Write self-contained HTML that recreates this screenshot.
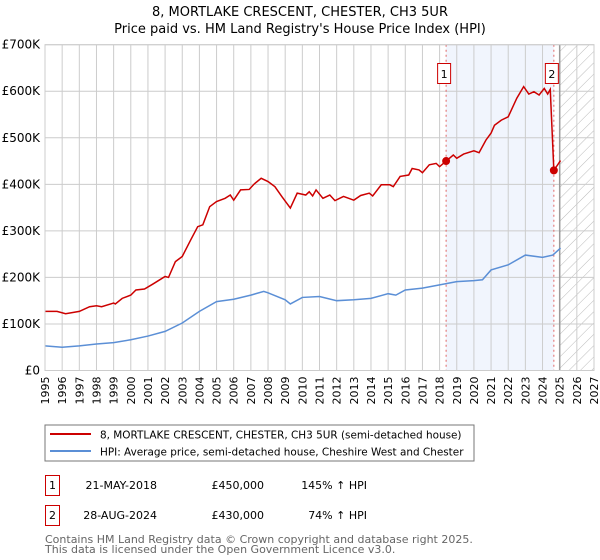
<!DOCTYPE html>
<html><head><meta charset="utf-8"><style>
body{margin:0;background:#fff;font-family:"DejaVu Sans","Liberation Sans",sans-serif;}
svg{display:block}
</style></head><body>
<svg id="chart" width="600" height="560" font-family="DejaVu Sans, Liberation Sans, sans-serif">
<defs><pattern id="hatch" width="8" height="8" patternUnits="userSpaceOnUse" patternTransform="rotate(45)"><line x1="0" y1="0" x2="0" y2="8" stroke="#bbb" stroke-width="1"/></pattern></defs>
<text x="300" y="16" text-anchor="middle" font-size="13">8, MORTLAKE CRESCENT, CHESTER, CH3 5UR</text>
<text x="300" y="33" text-anchor="middle" font-size="13">Price paid vs. HM Land Registry's House Price Index (HPI)</text>
<g id="plot"></g>
<rect x="45" y="425" width="429" height="36" fill="#fff" stroke="#777"/>
<line x1="50" y1="434" x2="91" y2="434" stroke="#cc0000" stroke-width="2"/>
<text x="100" y="438.5" font-size="10.45">8, MORTLAKE CRESCENT, CHESTER, CH3 5UR (semi-detached house)</text>
<line x1="50" y1="451" x2="91" y2="451" stroke="#5b8fd6" stroke-width="2"/>
<text x="100" y="455.5" font-size="10.45">HPI: Average price, semi-detached house, Cheshire West and Chester</text>
<g font-size="11">
<rect x="45.5" y="475.5" width="14" height="20" fill="none" stroke="#cc0000"/>
<text x="52.5" y="489" text-anchor="middle">1</text>
<text x="157" y="489" text-anchor="end">21-MAY-2018</text>
<text x="264" y="489" text-anchor="end">£450,000</text>
<text x="367" y="489" text-anchor="end">145% ↑ HPI</text>
<rect x="45.5" y="505.5" width="14" height="20" fill="none" stroke="#cc0000"/>
<text x="52.5" y="519" text-anchor="middle">2</text>
<text x="157" y="519" text-anchor="end">28-AUG-2024</text>
<text x="264" y="519" text-anchor="end">£430,000</text>
<text x="367" y="519" text-anchor="end">74% ↑ HPI</text>
</g>
<text x="45" y="543" font-size="11" fill="#666">Contains HM Land Registry data © Crown copyright and database right 2025.</text>
<text x="45" y="553" font-size="11" fill="#666">This data is licensed under the Open Government Licence v3.0.</text>
</svg>
<script>
const yTicks=[0,100,200,300,400,500,600,700];
const yTickLabels=["£0","£100K","£200K","£300K","£400K","£500K","£600K","£700K"];
const xYears=[1995,1996,1997,1998,1999,2000,2001,2002,2003,2004,2005,2006,2007,2008,2009,2010,2011,2012,2013,2014,2015,2016,2017,2018,2019,2020,2021,2022,2023,2024,2025,2026,2027];
const propT=[1995,1995.7,1996.2,1997,1997.6,1998,1998.3,1999,1999.1,1999.5,2000,2000.3,2000.8,2001.3,2002,2002.2,2002.6,2003,2003.5,2003.9,2004.2,2004.6,2005,2005.5,2005.8,2006,2006.4,2006.9,2007.2,2007.6,2008,2008.4,2008.8,2009.3,2009.7,2010.2,2010.4,2010.6,2010.8,2011.2,2011.6,2011.9,2012.4,2013,2013.4,2013.9,2014.1,2014.6,2015.1,2015.3,2015.7,2016.2,2016.4,2016.8,2017,2017.4,2017.8,2018,2018.38,2018.8,2019,2019.4,2020,2020.3,2020.7,2021,2021.2,2021.6,2022,2022.5,2022.9,2023.2,2023.5,2023.8,2024.1,2024.3,2024.45,2024.66,2025.05];
const propV=[127,127,122,127,137,139,137,145,143,155,162,173,175,186,202,200,234,245,281,309,313,352,363,370,377,366,388,389,401,413,406,395,374,349,381,377,384,375,388,370,377,365,374,366,376,381,375,399,399,395,417,420,434,431,425,442,445,438,450,463,456,465,472,468,495,510,527,538,545,585,610,594,599,592,606,594,604,430,451];
const hpiT=[1995,1996,1997,1998,1999,2000,2001,2002,2003,2004,2005,2006,2007,2007.75,2008,2009,2009.3,2010,2011,2012,2013,2014,2015,2015.45,2016,2017,2018,2019,2020,2020.5,2021,2022,2023,2024,2024.6,2025.05];
const hpiV=[53,50,53,57,60,66,74,84,102,127,148,153,162,170,167,152,143,157,159,150,152,155,165,162,173,177,184,191,193,195,216,227,248,243,248,263];
const saleT=[2018.38,2024.66];
const saleV=[450,430];
const saleLabels=["1","2"];
const X0=45,X1=594,Y0=370.5,Y1=44.7;
const x=t=>X0+(t-1995)/(2027-1995)*(X1-X0);
const y=v=>Y0-v/700*(Y0-Y1);
const NS="http://www.w3.org/2000/svg";
const g=document.getElementById('plot');
function mk(tag,attrs){const e=document.createElementNS(NS,tag);for(const k in attrs)e.setAttribute(k,attrs[k]);g.appendChild(e);return e;}
let e=mk('rect',{x:x(saleT[0]),y:Y1,width:x(saleT[1])-x(saleT[0]),height:Y0-Y1,fill:'#eef3fd',opacity:0.8});


e=mk('rect',{x:x(2025),y:Y1,width:X1-x(2025),height:Y0-Y1,fill:'url(#hatch)'});


xYears.forEach(yr=>{
  let l=mk('line',{x1:x(yr),x2:x(yr),y1:Y1,y2:Y0,stroke:'#ccc','stroke-width':1});
  
  
  let t=mk('text',{x:0,y:0,'font-size':11,'text-anchor':'end',transform:`translate(${x(yr)+4},${Y0+6}) rotate(-90)`});
  t.textContent=yr;
  
  
});
yTicks.forEach((v,i)=>{
  let l=mk('line',{x1:X0,x2:X1,y1:y(v),y2:y(v),stroke:'#ccc','stroke-width':1});
  
  
  let t=mk('text',{x:X0-5,y:y(v)+4,'font-size':12,'text-anchor':'end'});
  t.textContent=yTickLabels[i];
  
  
});
e=mk('line',{x1:x(2025),x2:x(2025),y1:Y1,y2:Y0,stroke:'#999','stroke-width':1.5});


saleT.forEach((t,i)=>{
  let l=mk('line',{x1:x(t),x2:x(t),y1:Y1,y2:Y0,stroke:'#e06666','stroke-width':1,'stroke-dasharray':'2,3'});
  
  
});
e=mk('polyline',{points:hpiT.map((t,i)=>x(t)+','+y(hpiV[i])).join(' '),fill:'none',stroke:'#5b8fd6','stroke-width':1.5});


e=mk('polyline',{points:propT.map((t,i)=>x(t)+','+y(propV[i])).join(' '),fill:'none',stroke:'#cc0000','stroke-width':1.5});


saleT.forEach((t,i)=>{
  let c=mk('circle',{cx:x(t),cy:y(saleV[i]),r:4,fill:'#cc0000'});
  
  
  let b=mk('rect',{x:x(t)-8.5,y:63.5,width:13,height:20,fill:'#fff',stroke:'#cc0000'});
  
  
  let tx=mk('text',{x:x(t)-2,y:78,'font-size':11,'text-anchor':'middle'});
  tx.textContent=saleLabels[i];
  
  
});
e=mk('rect',{x:X0,y:Y1,width:X1-X0,height:Y0-Y1,fill:'none',stroke:'#ccc'});


</script>
</body></html>
